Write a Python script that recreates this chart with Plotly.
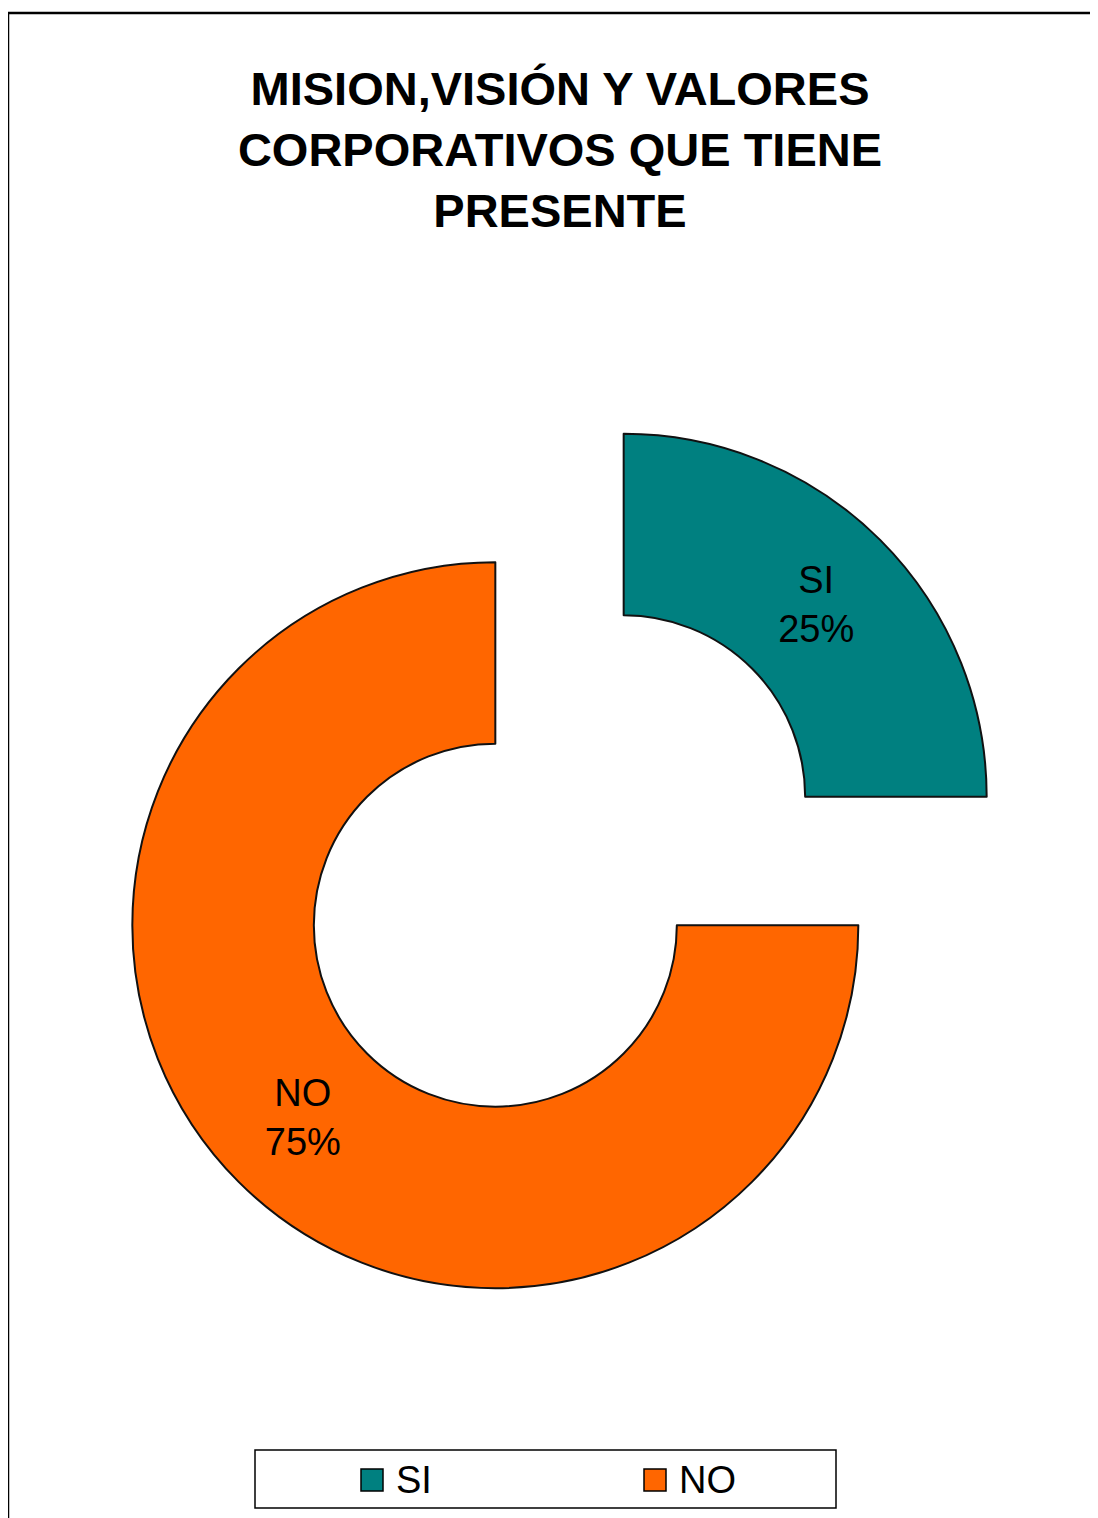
import plotly.graph_objects as go

W, H = 1098, 1518
OFF = 8  # the page body adds an 8px margin around the plot div

# data
labels = ["SI", "NO"]
values = [25, 75]
colors = ["#008080", "#FF6600"]
pulls = [0.25, 0.25]

title_text = "MISION,VISIÓN Y VALORES<br>CORPORATIVOS QUE TIENE<br>PRESENTE"

# legend entry positions (screen px of the reference)
legend_x = [361, 644]


def px_x(x):
    return (x - OFF) / W


def px_y(y):
    return 1 - (y - OFF) / H


fig = go.Figure(go.Pie(
    labels=labels,
    values=values,
    hole=0.5,
    pull=pulls,
    sort=False,
    direction="clockwise",
    rotation=0,
    marker=dict(colors=colors, line=dict(color="#111111", width=2)),
    textinfo="label+percent",
    textposition="inside",
    insidetextorientation="horizontal",
    textfont=dict(family="Liberation Sans, Arial", size=38, color="black"),
    domain=dict(x=[px_x(105.75), px_x(1013.25)], y=[px_y(1314.75), px_y(407.25)]),
    hoverinfo="label+value+percent",
    showlegend=False,
))

shapes = [
    # outer chart frame
    dict(type="rect", xref="paper", yref="paper",
         x0=px_x(8), x1=1.02, y0=-0.02, y1=px_y(13),
         line=dict(color="black", width=2.5)),
    # legend box
    dict(type="rect", xref="paper", yref="paper",
         x0=px_x(255), x1=px_x(836), y0=px_y(1508), y1=px_y(1450),
         line=dict(color="black", width=1.5)),
]
annotations = []
for lab, col, lx in zip(labels, colors, legend_x):
    shapes.append(dict(type="rect", xref="paper", yref="paper",
                       x0=px_x(lx), x1=px_x(lx + 22), y0=px_y(1491), y1=px_y(1469),
                       fillcolor=col, line=dict(color="black", width=1.5)))
    annotations.append(dict(text=lab, xref="paper", yref="paper",
                            x=px_x(lx + 33), y=px_y(1480), xanchor="left", yanchor="middle",
                            showarrow=False,
                            font=dict(family="Liberation Sans, Arial", size=38, color="black")))

fig.update_layout(
    width=W, height=H,
    margin=dict(l=0, r=0, t=0, b=0),
    paper_bgcolor="white",
    plot_bgcolor="white",
    title=dict(
        text=title_text,
        x=px_x(560), xanchor="center",
        y=px_y(105), yanchor="top", yref="paper",
        font=dict(family="Liberation Sans, Arial", size=47, color="black", weight="bold"),
    ),
    shapes=shapes,
    annotations=annotations,
)

fig.write_html("out.html")
